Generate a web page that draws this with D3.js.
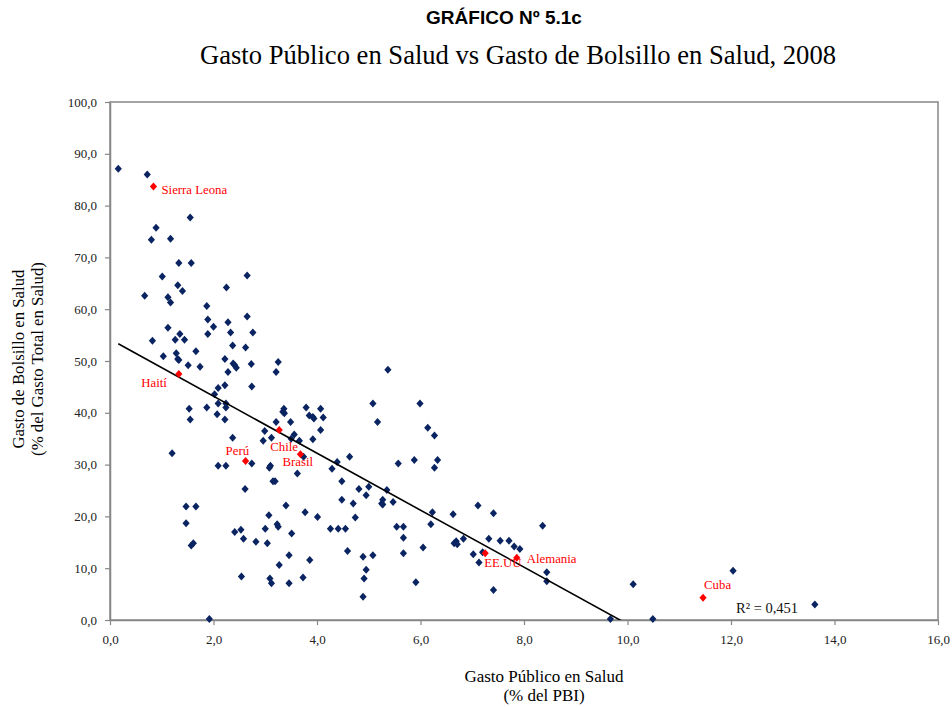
<!DOCTYPE html>
<html lang="es">
<head>
<meta charset="utf-8">
<script src="https://cdn.jsdelivr.net/npm/d3@7"></script>
<style>
  html, body { margin: 0; padding: 0; background: #ffffff; }
  svg { display: block; }
</style>
</head>
<body>
<svg id="chart" width="952" height="707"></svg>
<script>
// Gasto público en salud (% del PBI) por país
const gastoPublico = [
  0.16, 0.72, 1.55, 0.89, 0.80, 1.17, 1.33, 1.57, 1.01, 2.65,
  1.31, 1.40, 0.67, 1.12, 1.17, 2.25, 1.87, 2.65, 1.89, 2.00,
  2.28, 1.12, 2.76, 1.35, 1.89, 2.33, 0.82, 1.26, 1.44, 2.37,
  2.62, 1.66, 1.28, 1.03, 1.31, 1.33, 2.22, 1.51, 1.74, 2.38,
  2.41, 2.44, 2.73, 3.25, 3.21, 2.28, 2.74, 2.22, 2.09, 2.02,
  2.09, 2.24, 2.24, 1.53, 1.87, 2.07, 2.22, 1.55, 2.37, 1.20,
  2.09, 2.24, 2.74, 2.99, 3.21, 3.49, 3.36, 3.34, 3.37, 3.79,
  3.85, 3.92, 3.94, 4.07, 4.12, 5.08, 5.17, 4.07, 2.96, 3.12,
  3.56, 3.50, 3.66, 3.92, 3.10, 3.08, 4.63, 4.39, 4.29, 5.57,
  3.74, 3.62, 3.15, 3.19, 2.61, 4.48, 4.81, 5.00, 4.95, 5.35,
  5.27, 5.25, 5.27, 5.47, 4.48, 4.70, 5.54, 3.40, 3.77, 4.01,
  4.74, 3.07, 3.23, 3.25, 3.00, 3.51, 4.26, 4.41, 4.55, 2.41,
  2.53, 2.58, 2.82, 3.04, 3.46, 3.27, 3.86, 4.59, 4.89, 5.08,
  4.95, 4.91, 4.89, 2.54, 3.09, 3.12, 3.46, 3.73, 1.92, 5.37,
  5.99, 6.14, 6.27, 6.33, 6.27, 5.88, 5.67, 5.67, 5.67, 6.05,
  5.91, 6.23, 6.20, 6.63, 6.83, 6.69, 6.65, 6.71, 7.11, 7.41,
  7.32, 7.54, 7.71, 7.81, 7.92, 7.02, 7.20, 7.13, 7.41, 8.36,
  8.44, 8.44, 9.67, 10.49, 10.11, 12.04, 13.62, 1.47, 1.66, 1.47,
  1.57, 1.61
];

// Gasto de bolsillo en salud (% del gasto total en salud), mismo orden
const gastoBolsillo = [
  87.1, 86.0, 77.7, 75.7, 73.4, 73.6, 68.9, 68.9, 66.3, 66.5,
  64.6, 63.5, 62.6, 62.3, 61.3, 64.2, 60.6, 58.6, 58.0, 56.6,
  57.5, 56.4, 55.5, 55.2, 55.2, 55.5, 53.9, 54.1, 54.1, 53.0,
  52.6, 51.9, 51.5, 50.9, 50.4, 50.2, 50.4, 49.2, 48.9, 49.5,
  49.2, 48.7, 49.4, 49.8, 47.9, 47.9, 45.1, 45.3, 44.8, 43.6,
  41.8, 41.8, 41.0, 40.8, 41.0, 39.7, 38.7, 38.7, 35.2, 32.2,
  29.8, 29.8, 30.2, 36.5, 38.2, 38.2, 40.8, 40.2, 39.9, 41.0,
  39.5, 39.2, 38.9, 40.8, 39.1, 41.8, 38.2, 36.7, 34.6, 35.2,
  35.8, 35.0, 34.6, 34.9, 29.8, 29.4, 31.5, 30.5, 29.2, 30.2,
  31.5, 28.3, 26.8, 26.8, 25.3, 26.8, 25.3, 25.7, 24.1, 25.1,
  23.2, 22.5, 22.3, 22.8, 23.2, 22.5, 18.0, 22.1, 20.8, 19.9,
  19.8, 20.2, 18.5, 18.0, 17.6, 16.7, 17.6, 17.6, 17.6, 17.0,
  17.4, 15.7, 15.1, 14.8, 12.5, 10.6, 11.6, 13.3, 12.2, 12.5,
  9.7, 8.0, 4.5, 8.4, 8.0, 7.1, 7.1, 8.2, 0.2, 48.3,
  41.8, 37.1, 35.6, 30.9, 29.4, 30.9, 18.0, 15.9, 12.9, 14.0,
  7.3, 20.8, 18.5, 20.4, 15.7, 15.2, 14.8, 14.6, 22.1, 20.6,
  15.7, 15.3, 15.3, 14.2, 13.7, 12.7, 13.1, 11.1, 5.8, 18.2,
  9.2, 7.5, 0.2, 0.2, 6.9, 9.5, 3.0, 21.9, 21.9, 18.7,
  14.4, 14.8
];

// Países destacados
const paises        = ["Sierra Leona", "Haití", "Perú", "Chile", "Brasil", "EE.UU", "Alemania", "Cuba"];
const paisPublico   = [0.84, 1.33, 2.62, 3.27, 3.68, 7.25, 7.86, 11.46];
const paisBolsillo  = [83.7, 47.5, 30.7, 36.7, 32.0, 12.9, 12.0, 4.3];

// Tendencia lineal y su ajuste
const tendencia = { intercepto: 54.2, pendiente: -5.50 };
const r2Texto = "R² = 0,451";

// Ticks de los ejes
const ticksX = [0, 2, 4, 6, 8, 10, 12, 14, 16];
const ticksY = [0, 10, 20, 30, 40, 50, 60, 70, 80, 90, 100];

// Colocación de las etiquetas de país (desplazamiento en px desde el punto)
const etiquetaPos = {
  "Sierra Leona": [8, 8, "start"],
  "Haití":        [-12, 13, "end"],
  "Perú":         [-20, -6, "start"],
  "Chile":        [-9, 21, "start"],
  "Brasil":       [-18, 12, "start"],
  "EE.UU":        [-1, 14, "start"],
  "Alemania":     [10, 5, "start"],
  "Cuba":         [1, -9, "start"]
};

const serif = "'Liberation Serif', 'Times New Roman', serif";
const sans = "'Liberation Sans', Arial, sans-serif";
const axisGray = "#868686";
const navy = "#0a2461";
const red = "#ff0000";

const svg = d3.select("#chart");
const plot = { left: 110, right: 938, top: 102, bottom: 620 };

const x = d3.scaleLinear().domain([0, 16]).range([plot.left, plot.right]);
const y = d3.scaleLinear().domain([0, 100]).range([plot.bottom, plot.top]);

const es = d3.formatLocale({ decimal: ",", thousands: ".", grouping: [3], currency: ["", ""] });
const fmt = es.format(".1f");

// Títulos
svg.append("text")
  .attr("x", 504).attr("y", 24)
  .attr("text-anchor", "middle")
  .style("font-family", sans).style("font-weight", "bold").style("font-size", "19px")
  .text("GRÁFICO Nº 5.1c");

svg.append("text")
  .attr("x", 518).attr("y", 64)
  .attr("text-anchor", "middle")
  .style("font-family", serif).style("font-size", "26.6px")
  .text("Gasto Público en Salud vs Gasto de Bolsillo en Salud, 2008");

// Marco del área de trazado
svg.append("rect")
  .attr("x", plot.left).attr("y", plot.top)
  .attr("width", plot.right - plot.left).attr("height", plot.bottom - plot.top)
  .attr("fill", "none").attr("stroke", axisGray).attr("stroke-width", 1.5);

// Ejes
const xAxis = svg.append("g")
  .attr("transform", `translate(0,${plot.bottom})`)
  .call(d3.axisBottom(x).tickValues(ticksX).tickFormat(fmt).tickSize(5).tickSizeOuter(0).tickPadding(10));

const yAxis = svg.append("g")
  .attr("transform", `translate(${plot.left},0)`)
  .call(d3.axisLeft(y).tickValues(ticksY).tickFormat(fmt).tickSize(5).tickSizeOuter(0).tickPadding(8));

[xAxis, yAxis].forEach(g => {
  g.select(".domain").attr("stroke", axisGray).attr("stroke-width", 1.5);
  g.selectAll(".tick line").attr("stroke", axisGray).attr("stroke-width", 1.2);
  g.selectAll(".tick text")
    .style("font-family", serif).style("font-size", "13px").attr("fill", "#222");
});

// Títulos de ejes
svg.append("text")
  .attr("x", 544).attr("y", 682)
  .attr("text-anchor", "middle")
  .style("font-family", serif).style("font-size", "17px")
  .text("Gasto Público en Salud");
svg.append("text")
  .attr("x", 544).attr("y", 701)
  .attr("text-anchor", "middle")
  .style("font-family", serif).style("font-size", "17px")
  .text("(% del PBI)");

const yTitle = svg.append("g").attr("transform", "translate(0,359) rotate(-90)");
yTitle.append("text")
  .attr("x", 0).attr("y", 24)
  .attr("text-anchor", "middle")
  .style("font-family", serif).style("font-size", "16.8px")
  .text("Gasto de Bolsillo en Salud");
yTitle.append("text")
  .attr("x", 0).attr("y", 43)
  .attr("text-anchor", "middle")
  .style("font-family", serif).style("font-size", "16.8px")
  .text("(% del Gasto Total en Salud)");

// Recorte de la línea de tendencia al área de trazado
svg.append("clipPath").attr("id", "area")
  .append("rect")
  .attr("x", plot.left).attr("y", plot.top)
  .attr("width", plot.right - plot.left).attr("height", plot.bottom - plot.top);

const diamond = "M0,-4L3.6,0L0,4L-3.6,0Z";

// Puntos de todos los países
const puntos = gastoPublico.map((v, i) => ({ gx: v, gy: gastoBolsillo[i] }));
svg.append("g")
  .selectAll("path")
  .data(puntos)
  .join("path")
  .attr("d", diamond)
  .attr("transform", d => `translate(${x(d.gx)},${y(d.gy)})`)
  .attr("fill", navy);

// Línea de tendencia
const xMin = d3.min(gastoPublico);
const xMax = d3.max(gastoPublico);
svg.append("line")
  .attr("clip-path", "url(#area)")
  .attr("x1", x(xMin)).attr("y1", y(tendencia.intercepto + tendencia.pendiente * xMin))
  .attr("x2", x(xMax)).attr("y2", y(tendencia.intercepto + tendencia.pendiente * xMax))
  .attr("stroke", "#000").attr("stroke-width", 1.6);

// Países destacados
const destacados = paises.map((p, i) => ({ nombre: p, gx: paisPublico[i], gy: paisBolsillo[i] }));
const gDest = svg.append("g");
gDest.selectAll("path")
  .data(destacados)
  .join("path")
  .attr("d", diamond)
  .attr("transform", d => `translate(${x(d.gx)},${y(d.gy)})`)
  .attr("fill", red);

gDest.selectAll("text")
  .data(destacados)
  .join("text")
  .attr("x", d => x(d.gx) + etiquetaPos[d.nombre][0])
  .attr("y", d => y(d.gy) + etiquetaPos[d.nombre][1])
  .attr("text-anchor", d => etiquetaPos[d.nombre][2])
  .attr("fill", red)
  .style("font-family", serif).style("font-size", "12.8px")
  .text(d => d.nombre);

// Coeficiente de determinación
svg.append("text")
  .attr("x", 736).attr("y", 613)
  .style("font-family", serif).style("font-size", "14.5px")
  .attr("fill", "#111")
  .text(r2Texto);
</script>
</body>
</html>
